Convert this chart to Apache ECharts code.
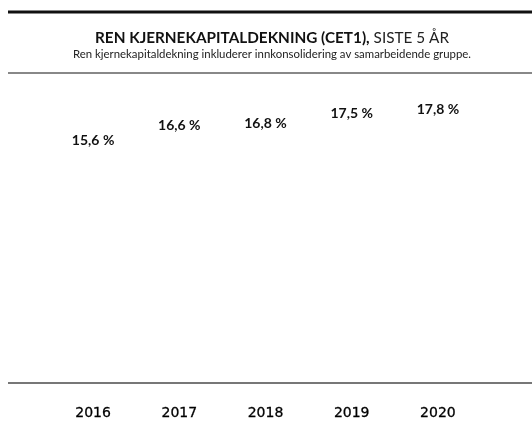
<!DOCTYPE html>
<html>
<head>
<meta charset="utf-8">
<script src="https://cdn.jsdelivr.net/npm/echarts@6/dist/echarts.min.js"></script>
<style>
html,body{margin:0;padding:0;background:#fff;}
#chart{width:532px;height:421px;}
</style>
</head>
<body>
<div id="chart"></div>
<script>
var years = ['2016', '2017', '2018', '2019', '2020'];
var cet1 = [15.6, 16.6, 16.8, 17.5, 17.8];
var titleBold = 'REN KJERNEKAPITALDEKNING (CET1),';
var titleRest = ' SISTE 5 ÅR';
var subtitle = 'Ren kjernekapitaldekning inkluderer innkonsolidering av samarbeidende gruppe.';

var chart = echarts.init(document.getElementById('chart'), null, {renderer: 'canvas'});
chart.setOption({
  animation: false,
  backgroundColor: '#ffffff',
  title: {
    text: '{b|' + titleBold + '}{r|' + titleRest + '}',
    subtext: subtitle,
    left: 267,
    textAlign: 'center',
    top: 26,
    itemGap: 3,
    textStyle: {
      rich: {
        b: {fontFamily: 'Lato', fontWeight: 'bold', fontSize: 15.3, color: '#111'},
        r: {fontFamily: 'Lato', fontWeight: 'normal', fontSize: 15.3, color: '#222'}
      }
    },
    subtextStyle: {fontFamily: 'Lato', fontSize: 11.4, color: '#222'}
  },
  graphic: [
    {type: 'line', shape: {x1: 8, y1: 12, x2: 532, y2: 12}, style: {stroke: '#111', lineWidth: 3}},
    {type: 'line', shape: {x1: 8, y1: 73, x2: 532, y2: 73}, style: {stroke: '#888', lineWidth: 2}},
    {type: 'line', shape: {x1: 8, y1: 383, x2: 532, y2: 383}, style: {stroke: '#777', lineWidth: 2}}
  ],
  grid: {left: 50, right: 51, top: 101, bottom: 38},
  xAxis: {
    type: 'category',
    data: years,
    axisLine: {show: false},
    axisTick: {show: false},
    axisLabel: {margin: 24, fontFamily: 'DejaVu Sans', fontSize: 14, color: '#000', textBorderColor: '#000', textBorderWidth: 0.3}
  },
  yAxis: {
    type: 'value',
    min: 0,
    max: 20,
    show: false,
    splitLine: {show: false}
  },
  series: [{
    type: 'bar',
    data: cet1,
    barWidth: '50%',
    itemStyle: {color: 'rgba(255,255,255,0)'},
    label: {
      show: true,
      position: 'top',
      distance: 16,
      fontFamily: 'Lato',
      fontWeight: 'bold',
      fontSize: 14,
      color: '#111',
      formatter: function (p) { return String(p.value.toFixed(1)).replace('.', ',') + ' %'; }
    }
  }]
});
</script>
</body>
</html>
